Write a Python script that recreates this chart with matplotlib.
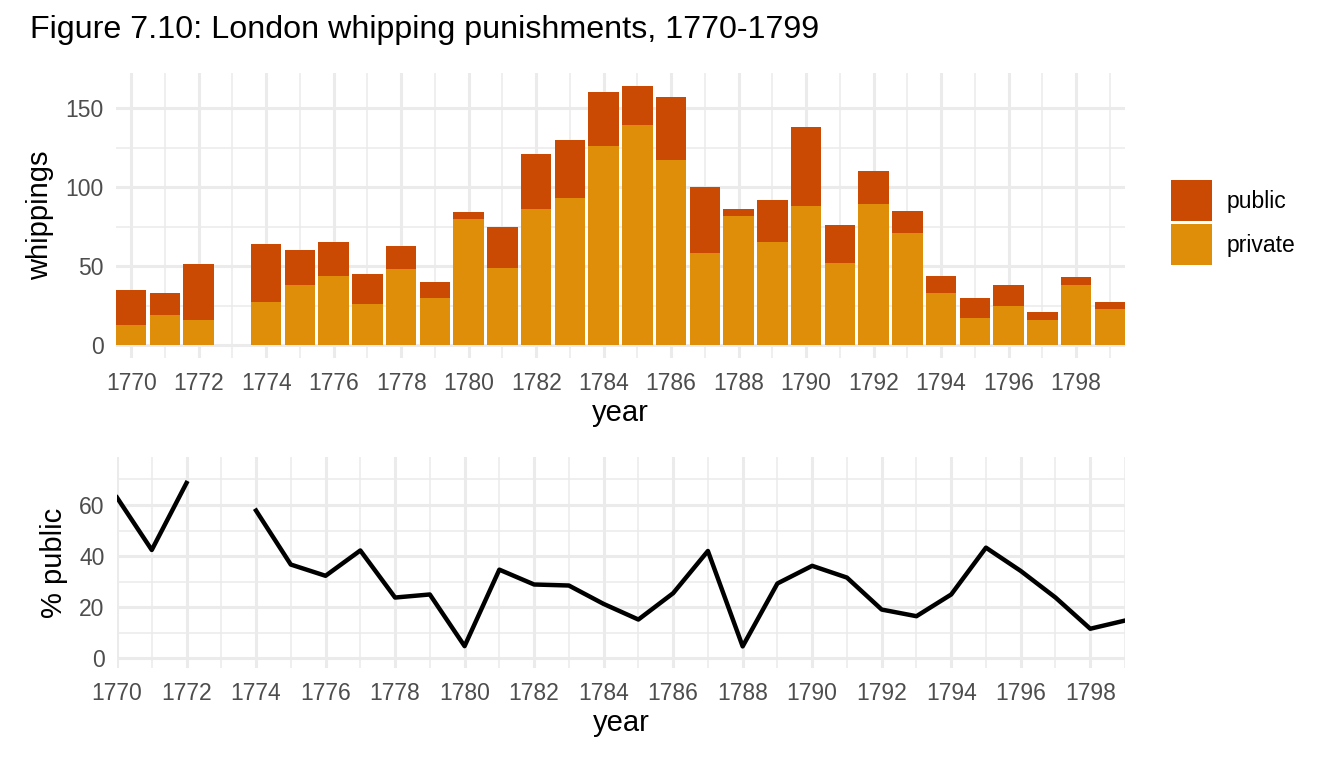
import matplotlib.pyplot as plt
import matplotlib.patches as mpatches
import numpy as np

plt.rcParams['font.family'] = ['Liberation Sans', 'DejaVu Sans']

years = list(range(1770, 1800))
# whippings per year, split by type (1773 missing)
private = [13, 19, 16, np.nan, 27, 38, 44, 26, 48, 30,
           80, 49, 86, 93, 126, 139, 117, 58, 82, 65,
           88, 52, 89, 71, 33, 17, 25, 16, 38, 23]
public = [22, 14, 35, np.nan, 37, 22, 21, 19, 15, 10,
          4, 26, 35, 37, 34, 25, 40, 42, 4, 27,
          50, 24, 21, 14, 11, 13, 13, 5, 5, 4]
pct_public = [62.9, 42.4, 68.6, np.nan, 57.8, 36.7, 32.3, 42.2, 23.8, 25.0,
              4.8, 34.7, 28.9, 28.5, 21.3, 15.2, 25.5, 42.0, 4.7, 29.3,
              36.2, 31.6, 19.1, 16.5, 25.0, 43.3, 34.2, 23.8, 11.6, 14.8]

c_public = '#CA4A03'
c_private = '#DF8E0A'
grid_c = '#EBEBEB'
tick_c = '#4D4D4D'


def style_axis(ax):
    for s in ax.spines.values():
        s.set_visible(False)
    ax.set_axisbelow(True)
    ax.grid(which='major', color=grid_c, lw=2.2)
    ax.grid(which='minor', color=grid_c, lw=1.1)
    ax.tick_params(which='both', length=0, labelsize=16.5, labelcolor=tick_c)
    ax.tick_params(axis='y', pad=9)
    ax.tick_params(axis='x', pad=10)


fig = plt.figure(figsize=(13.44, 7.68), dpi=100)
ax1 = fig.add_axes([116 / 1344, 1 - 358 / 768, (1125 - 116) / 1344, (358 - 73) / 768])
ax2 = fig.add_axes([117 / 1344, 1 - 668 / 768, (1125 - 117) / 1344, (668 - 457) / 768])

yrs = np.array(years)
pv = np.array(private, dtype=float)
pb = np.array(public, dtype=float)
ok = ~np.isnan(pv)
ax1.bar(yrs[ok], pv[ok], width=0.9, color=c_private, lw=0)
ax1.bar(yrs[ok], pb[ok], bottom=pv[ok], width=0.9, color=c_public, lw=0)
ax1.set_xlim(1769.55, 1799.45)
ax1.set_ylim(-8.2, 172.2)
ax1.set_yticks([0, 50, 100, 150])
ax1.set_yticks([25, 75, 125], minor=True)
ax1.set_xticks(range(1770, 1800, 2))
ax1.set_xticks(range(1771, 1800, 2), minor=True)
style_axis(ax1)
ax1.set_xlabel('year', fontsize=21, labelpad=3)
ax1.set_ylabel('whippings', fontsize=21, labelpad=8)

ax2.plot(years, pct_public, color='black', lw=3.2)
ax2.set_xlim(1770, 1799)
ax2.set_ylim(-3.75, 78.75)
ax2.set_yticks([0, 20, 40, 60])
ax2.set_yticks([10, 30, 50, 70], minor=True)
ax2.set_xticks(range(1770, 1800, 2))
ax2.set_xticks(range(1771, 1800, 2), minor=True)
style_axis(ax2)
ax2.set_xlabel('year', fontsize=21, labelpad=3)
ax2.set_ylabel('% public', fontsize=21, labelpad=8)

handles = [mpatches.Patch(color=c_public, lw=0), mpatches.Patch(color=c_private, lw=0)]
fig.legend(handles, ['public', 'private'], loc='upper left',
           bbox_to_anchor=(1162 / 1344, 1 - 171 / 768), frameon=False,
           fontsize=16.5, handlelength=1.8, handleheight=2.35,
           labelspacing=0.15, handletextpad=0.6, borderaxespad=0)

fig.text(30 / 1344, 1 - 30 / 768, 'Figure 7.10: London whipping punishments, 1770-1799',
         fontsize=23.2, va='center', ha='left')

fig.savefig('out.png', dpi=100)
